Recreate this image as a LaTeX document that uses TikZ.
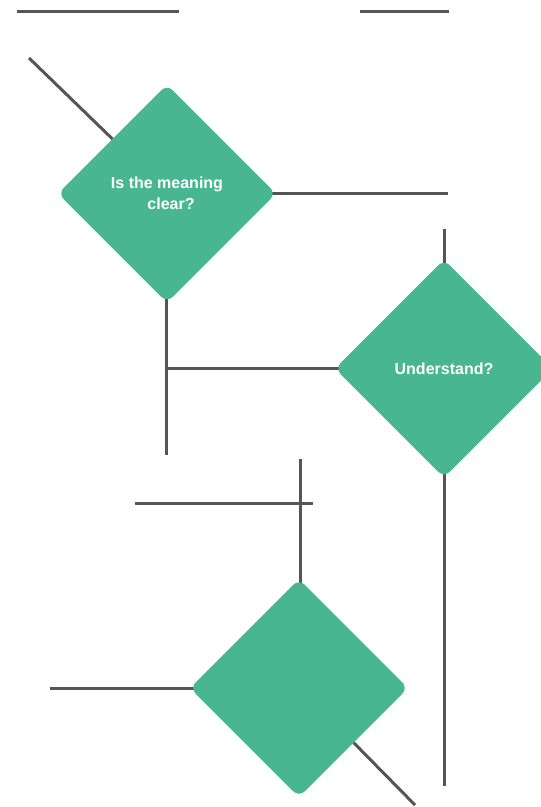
\documentclass[tikz,border=0pt]{standalone}
\usepackage{fontspec}
\setmainfont{Liberation Sans}
\usetikzlibrary{shapes.geometric,backgrounds}
\definecolor{dgreen}{HTML}{47B691}
\definecolor{lgray}{HTML}{555555}
\begin{document}
\begin{tikzpicture}[x=1pt,y=-1pt,
  decision/.style={shape=diamond, aspect=1, minimum width=218pt, minimum height=218pt,
    inner sep=0pt, outer sep=0pt, fill=dgreen, draw=none, rounded corners=8pt,
    text=white, font=\fontsize{16}{21}\selectfont\bfseries, align=center},
  conn/.style={draw=lgray, line width=3pt}]
\useasboundingbox (0,0) rectangle (541,807);
\clip (0,0) rectangle (541,807);
\node[decision] (d1) at (167,193.5) {Is the meaning\\\hspace*{8pt}clear?};
\node[decision] (d2) at (444,368.5) {Understand?};
\node[decision] (d3) at (299,688) {};
\coordinate (a1) at (17,11);
\coordinate (a2) at (179,11);
\coordinate (b1) at (360,11);
\coordinate (b2) at (449,11);
\coordinate (c1) at (29,58);
\coordinate (e1) at (448,193.5);
\coordinate (f1) at (444,229);
\coordinate (g1) at (166.5,455);
\coordinate (h1) at (168,368.5);
\coordinate (i1) at (300,459);
\coordinate (j1) at (135,503);
\coordinate (j2) at (313,503);
\coordinate (k1) at (444,786);
\coordinate (m1) at (50,688);
\coordinate (n1) at (415,805);
\begin{scope}[on background layer]
\draw[conn] (a1) -- (a2);
\draw[conn] (b1) -- (b2);
\draw[conn] (c1) -- (d1.north west);
\draw[conn] (d1.center) -- (e1);
\draw[conn] (f1) -- (d2.center);
\draw[conn] (d1.center -| g1) -- (g1);
\draw[conn] (h1) -- (d2.center);
\draw[conn] (i1) -- (d3.center -| i1);
\draw[conn] (j1) -- (j2);
\draw[conn] (d2.center) -- (k1);
\draw[conn] (m1) -- (d3.center);
\draw[conn] (d3.south east) -- (n1);
\end{scope}
\end{tikzpicture}
\end{document}
